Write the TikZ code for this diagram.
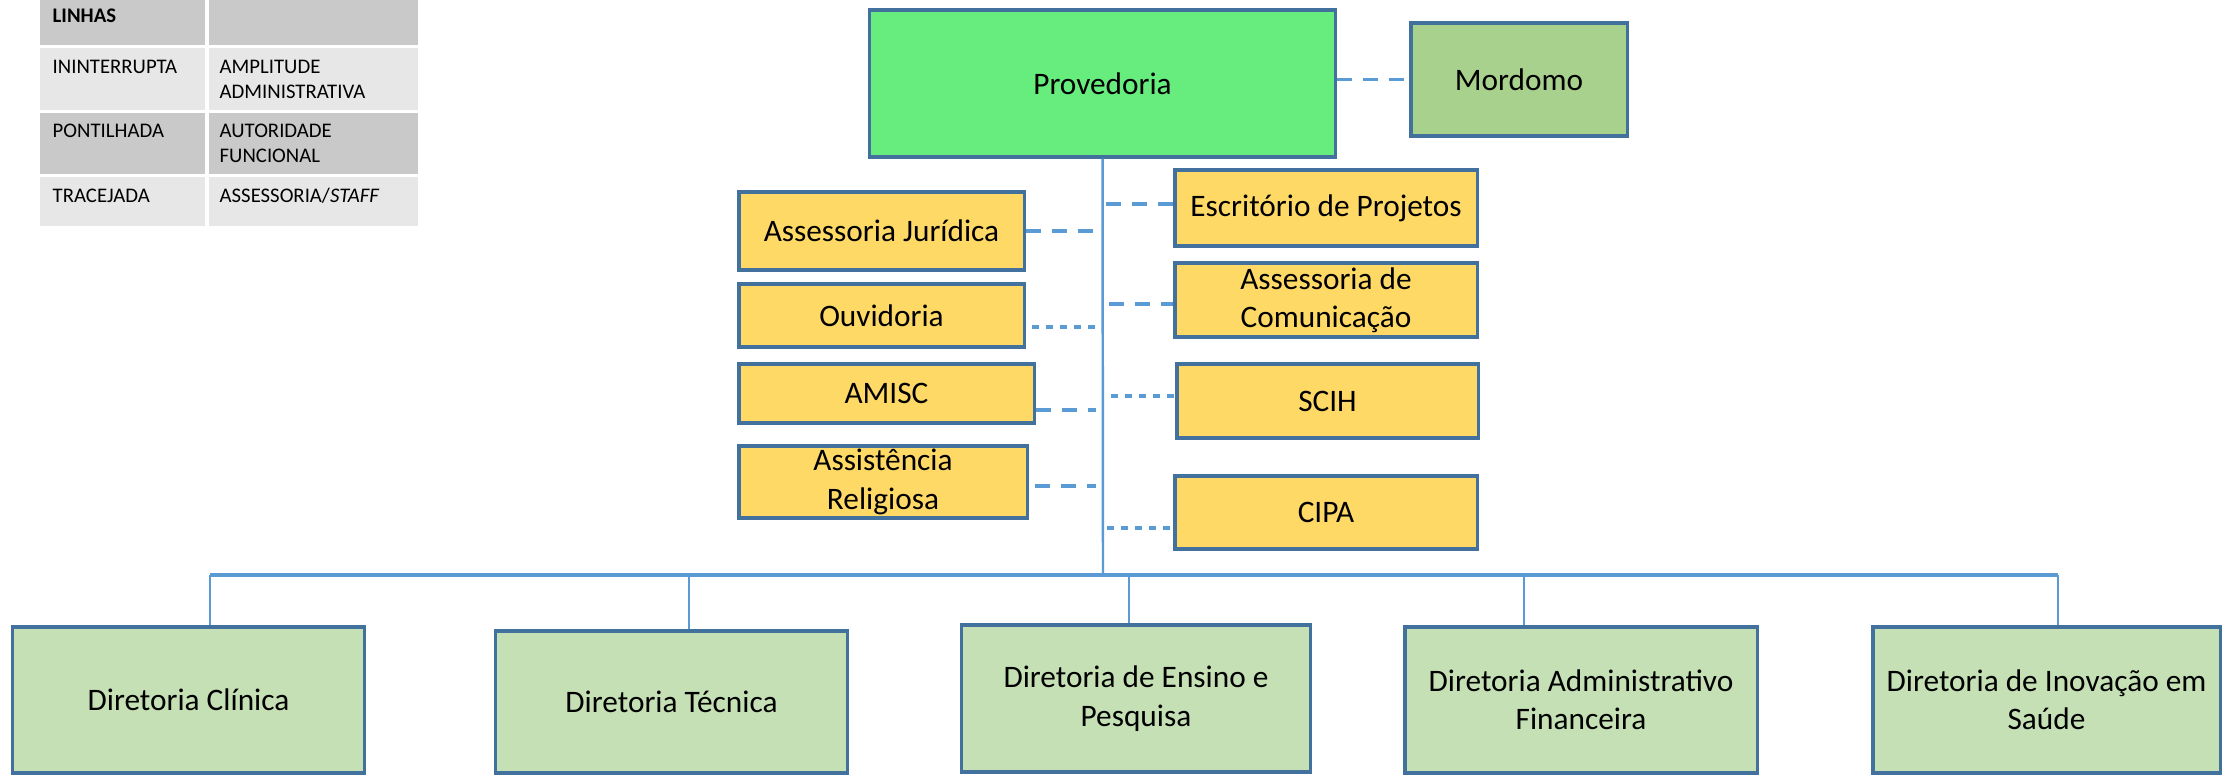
\documentclass[tikz,border=0pt]{standalone}
\usepackage{fontspec}
\setmainfont{Carlito}
\definecolor{borda}{RGB}{65,113,156}
\definecolor{azul}{RGB}{91,155,213}
\definecolor{verdevivo}{RGB}{103,236,126}
\definecolor{verdemordomo}{RGB}{169,209,142}
\definecolor{amarelo}{RGB}{255,217,102}
\definecolor{verdeclaro}{RGB}{197,224,180}
\definecolor{cinzaesc}{RGB}{201,201,201}
\definecolor{cinzaclaro}{RGB}{231,231,231}
\begin{document}
\begin{tikzpicture}[x=0.01cm, y=-0.01cm,
    caixa/.style={draw=borda, line width=0.9pt, align=center, inner sep=0pt,
      font=\fontsize{8.9}{10.9}\selectfont},
    linha/.style={draw=azul, line width=0.7pt},
    barra/.style={draw=azul, line width=0.95pt},
    staff/.style={draw=azul, line width=0.9pt, dash pattern=on 0.15cm off 0.11cm},
    funcional/.style={draw=azul, line width=0.9pt, dash pattern=on 0.07cm off 0.07cm},
    legenda/.style={anchor=base west, inner sep=0pt, align=left,
      font=\fontsize{5.9}{7.3}\selectfont}]

    \useasboundingbox (0,0) rectangle (2222,775);
    \fill[white] (0,0) rectangle (2222,775);

    % 图例表格
    \fill[cinzaesc] (40,-5) rectangle (205,45);
    \fill[cinzaesc] (209,-5) rectangle (418,45);
    \fill[cinzaclaro] (40,48) rectangle (205,110);
    \fill[cinzaclaro] (209,48) rectangle (418,110);
    \fill[cinzaesc] (40,113) rectangle (205,174);
    \fill[cinzaesc] (209,113) rectangle (418,174);
    \fill[cinzaclaro] (40,177) rectangle (205,226);
    \fill[cinzaclaro] (209,177) rectangle (418,226);
    \node[legenda] (lh) at (52,22) {\textbf{LINHAS}};
    \node[legenda] (l1) at (52,73) {ININTERRUPTA};
    \node[legenda] (r1) at (219,98.8) {AMPLITUDE\\ADMINISTRATIVA};
    \node[legenda] (l2) at (52,137) {PONTILHADA};
    \node[legenda] (r2) at (219,162.8) {AUTORIDADE\\FUNCIONAL};
    \node[legenda] (l3) at (52,202) {TRACEJADA};
    \node[legenda] (r3) at (219,202) {ASSESSORIA/\textit{STAFF}};

    % 顶部
    \node[caixa, fill=verdevivo, minimum width=4.65cm, minimum height=1.47cm] (prov) at (1102.5,83.5) {Provedoria};
    \node[caixa, fill=verdemordomo, minimum width=2.16cm, minimum height=1.13cm] (mord) at (1519,79.5) {Mordomo};
    \draw[staff] (prov.east |- mord.west) -- (mord.west);

    % 主干
    \coordinate (tronco) at (1103,575);
    \draw[linha] (prov.south) -- (tronco);

    % 左侧
    \node[caixa, fill=amarelo, minimum width=2.85cm, minimum height=0.78cm] (jur) at (881.5,231) {Assessoria Jurídica};
    \node[caixa, fill=amarelo, minimum width=2.85cm, minimum height=0.63cm] (ouv) at (881.5,315.5) {Ouvidoria};
    \node[caixa, fill=amarelo, minimum width=2.95cm, minimum height=0.59cm] (amisc) at (886.5,393.5) {AMISC};
    \node[caixa, fill=amarelo, minimum width=2.88cm, minimum height=0.72cm] (rel) at (883,482) {Assistência\\Religiosa};
    \coordinate (tj) at (1103,231);
    \coordinate (to) at (1103,327);
    \coordinate (ta) at (1096,410);
    \coordinate (tr) at (1096,486);
    \draw[staff] (jur.east) -- (tj);
    \draw[funcional] ([shift={(6,11.5)}]ouv.east) -- (to);
    \draw[staff] ([shift={(0,16.5)}]amisc.east) -- (ta);
    \draw[staff] ([shift={(6,4)}]rel.east) -- (tr);

    % 右侧
    \node[caixa, fill=amarelo, minimum width=3.02cm, minimum height=0.76cm] (esc) at (1326,208) {Escritório de Projetos};
    \node[caixa, fill=amarelo, minimum width=3.02cm, minimum height=0.74cm] (com) at (1326,300) {Assessoria de\\Comunicação};
    \node[caixa, fill=amarelo, minimum width=3.01cm, minimum height=0.74cm] (scih) at (1327.5,401) {SCIH};
    \node[caixa, fill=amarelo, minimum width=3.02cm, minimum height=0.73cm] (cipa) at (1326,512.5) {CIPA};
    \coordinate (te) at (1106,204);
    \coordinate (tc) at (1109,304);
    \coordinate (ts) at (1111,396);
    \coordinate (tp) at (1107,528);
    \draw[staff] (te) -- ([shift={(0,-4)}]esc.west);
    \draw[staff] (tc) -- ([shift={(0,4)}]com.west);
    \draw[funcional] (ts) -- ([shift={(0,-5)}]scih.west);
    \draw[funcional] (tp) -- ([shift={(0,15.5)}]cipa.west);

    % 底部五个
    \node[caixa, fill=verdeclaro, minimum width=3.51cm, minimum height=1.46cm] (clin) at (188.5,700) {Diretoria Clínica};
    \node[caixa, fill=verdeclaro, minimum width=3.51cm, minimum height=1.42cm] (tec) at (671.5,702) {Diretoria Técnica};
    \node[caixa, fill=verdeclaro, minimum width=3.48cm, minimum height=1.47cm] (ens) at (1136,698.5) {Diretoria de Ensino e\\Pesquisa};
    \node[caixa, fill=verdeclaro, minimum width=3.52cm, minimum height=1.46cm] (adm) at (1581,700) {Diretoria Administrativo\\Financeira};
    \node[caixa, fill=verdeclaro, minimum width=3.47cm, minimum height=1.46cm] (inov) at (2046.5,700) {Diretoria de Inovação em\\Saúde};

    % 横线和竖线
    \coordinate (d1) at (210,575);
    \coordinate (d2) at (689,575);
    \coordinate (d3) at (1129,575);
    \coordinate (d4) at (1524,575);
    \coordinate (d5) at (2058,575);
    \draw[barra] (d1) -- (d5);
    \draw[linha] (d1) -- (d1 |- clin.north);
    \draw[linha] (d2) -- (d2 |- tec.north);
    \draw[linha] (d3) -- (d3 |- ens.north);
    \draw[linha] (d4) -- (d4 |- adm.north);
    \draw[linha] (d5) -- (d5 |- inov.north);

\end{tikzpicture}
\end{document}
